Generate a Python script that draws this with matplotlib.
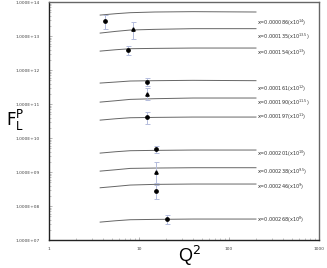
import numpy as np
import matplotlib
matplotlib.use('Agg')
import matplotlib.pyplot as plt
from matplotlib.ticker import LogLocator, FixedLocator, NullFormatter


# theory curves, log10(F_L) read at these Q2 values
curve_q2 = [3.7, 5.5, 8, 15, 40, 200]
curves = [
    [13.62, 13.66, 13.69, 13.71, 13.72, 13.71],
    [13.09, 13.14, 13.18, 13.20, 13.22, 13.22],
    [12.56, 12.60, 12.63, 12.64, 12.65, 12.65],
    [11.62, 11.65, 11.68, 11.69, 11.70, 11.69],
    [11.06, 11.10, 11.14, 11.16, 11.18, 11.18],
    [10.53, 10.57, 10.60, 10.61, 10.62, 10.62],
    [9.56, 9.60, 9.63, 9.64, 9.65, 9.65],
    [9.03, 9.07, 9.11, 9.12, 9.13, 9.13],
    [8.54, 8.58, 8.62, 8.64, 8.65, 8.65],
    [7.53, 7.57, 7.60, 7.61, 7.62, 7.62],
]

x_values = ['0.000086', '0.000135', '0.000154', '0.000161', '0.000190',
            '0.000197', '0.000201', '0.000238', '0.000246', '0.000268']
scale_exp = ['14', '13.5', '13', '12', '11.5', '11', '10', '9.5', '9', '8']

# data points (log10 values)
pt_q2 = [4.2, 8.6, 7.6, 12.2, 12.2, 12.2, 15.3, 15.3, 15.3, 20.3]
pt_val = [13.44, 13.21, 12.59, 11.65, 11.29, 10.62, 9.68, 9.00, 8.44, 7.62]
pt_hi = [13.62, 13.41, 12.71, 11.76, 11.47, 10.76, 9.76, 9.29, 8.62, 7.74]
pt_lo = [13.21, 12.91, 12.44, 11.53, 11.12, 10.41, 9.56, 8.68, 8.21, 7.47]
pt_marker = ['o', '^', 'o', 'o', '^', 'o', 'o', '^', 'o', 'o']

label_y = [13.38, 12.97, 12.50, 11.44, 11.03, 10.62, 9.53, 9.00, 8.56, 7.59]


fig = plt.figure(figsize=(3.27, 2.68), dpi=100)
ax = fig.add_axes([0.150, 0.104, 0.825, 0.888])
ax.set_xscale('log')
ax.set_yscale('log')
ax.set_xlim(1, 1000)
ax.set_ylim(1e7, 1e14)

for c in curves:
    ax.plot(curve_q2, 10 ** np.array(c), color='#666666', lw=0.7)

for i in range(len(pt_q2)):
    v = 10 ** pt_val[i]
    yerr = [[v - 10 ** pt_lo[i]], [10 ** pt_hi[i] - v]]
    ax.errorbar([pt_q2[i]], [v], yerr=yerr, fmt='none', ecolor='#b4bcdc',
                elinewidth=0.7, capsize=1.8, capthick=0.7)
    ax.plot(pt_q2[i], v, marker=pt_marker[i], color='black', ms=2.4, ls='none')

for i in range(len(x_values)):
    ax.text(205, 10 ** label_y[i],
            'x=' + x_values[i] + '(x10$^{' + scale_exp[i] + '}$)',
            fontsize=3.5, color='#333333', va='center', ha='left')

ax.yaxis.set_major_locator(FixedLocator([10.0 ** k for k in range(7, 15)]))
ax.set_yticklabels(['1.000E+%02d' % k for k in range(7, 15)])
ax.yaxis.set_minor_locator(LogLocator(base=10, subs=np.arange(2, 10)))
ax.yaxis.set_minor_formatter(NullFormatter())
ax.set_xticks([1, 10, 100, 1000])
ax.set_xticklabels(['1', '10', '100', '1000'])
ax.xaxis.set_minor_locator(LogLocator(base=10, subs=np.arange(2, 10)))
ax.xaxis.set_minor_formatter(NullFormatter())

ax.tick_params(which='both', direction='in', labelsize=3.2, labelcolor='#444444',
               color='#999999')
ax.tick_params(axis='y', pad=7)
ax.tick_params(axis='x', pad=5)
ax.tick_params(which='major', length=2.5, width=0.5)
ax.tick_params(which='minor', length=1.5, width=0.4)

for s in ['left', 'bottom']:
    ax.spines[s].set_color('#222222')
    ax.spines[s].set_linewidth(1.0)
for s in ['top', 'right']:
    ax.spines[s].set_color('#666666')
    ax.spines[s].set_linewidth(1.0)

fig.text(0.018, 0.55, r'$\mathrm{F}_\mathrm{L}^\mathrm{P}$', fontsize=12,
         family='DejaVu Serif', ha='left', va='center')
fig.text(0.58, 0.045, r'Q$^2$', fontsize=13, family='Liberation Sans',
         ha='center', va='center')

fig.savefig('out.png', dpi=100)
